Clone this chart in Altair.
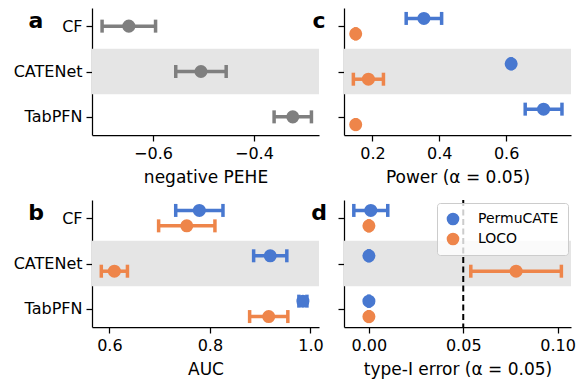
import altair as alt
import pandas as pd

categories = ["CF", "CATENet", "TabPFN"]
methods = ["PermuCATE", "LOCO"]
method_colors = ["#4878d0", "#ee854a"]
single_color = "#7f7f7f"
band_color = "#e5e5e5"
letters = ["a", "b", "c", "d"]

# panel a: negative PEHE (single series)
pehe_mean = [-0.648, -0.505, -0.323]
pehe_err = [0.053, 0.050, 0.037]

# panel b: AUC
auc_perm_mean = [0.779, 0.920, 0.985]
auc_perm_err = [0.047, 0.033, 0.008]
auc_loco_mean = [0.754, 0.610, 0.917]
auc_loco_err = [0.056, 0.026, 0.038]

# panel c: Power
pow_perm_mean = [0.354, 0.615, 0.712]
pow_perm_err = [0.053, 0.0, 0.055]
pow_loco_mean = [0.150, 0.188, 0.150]
pow_loco_err = [0.0, 0.045, 0.0]

# panel d: type-I error
t1_perm_mean = [0.001, 0.0, 0.0]
t1_perm_err = [0.009, 0.0, 0.0]
t1_loco_mean = [0.0, 0.078, 0.0]
t1_loco_err = [0.0, 0.024, 0.0]
alpha_level = 0.05

DODGE = {"PermuCATE": -0.17, "LOCO": 0.17, "single": 0.0}
FONT = "DejaVu Sans"
W, H = 227, 127


def build(series):
    rows = []
    for method, means, errs in series:
        for i, (c, m, e) in enumerate(zip(categories, means, errs)):
            rows.append({"category": c, "method": method, "pos": i + DODGE[method],
                         "mean": m, "lo": m - e, "hi": m + e})
    return pd.DataFrame(rows)


band_idx = categories.index("CATENet")
band_df = pd.DataFrame({"y0": [band_idx - 0.5], "y1": [band_idx + 0.5]})
label_expr = "[" + ",".join("'%s'" % c for c in categories) + "][datum.value]"


def panel(df, xdomain, xticks, fmt, title, letter, show_labels, colored, legend=False, extra=None):
    xs = alt.Scale(domain=xdomain, nice=False, zero=False)
    ys = alt.Scale(domain=[-0.4, 2.4], reverse=True, nice=False, zero=False)
    yaxis = alt.Axis(values=list(range(len(categories))), labelExpr=label_expr if show_labels else "''",
                     labels=show_labels, title=None)
    xaxis = alt.Axis(values=xticks, format=fmt, title=title)
    if colored:
        color = alt.Color("method:N", scale=alt.Scale(domain=methods, range=method_colors),
                          legend=alt.Legend(title=None) if legend else None)
    else:
        color = alt.value(single_color)

    band = alt.Chart(band_df).mark_rect(color=band_color).encode(
        x=alt.value(0), x2=alt.value("width"),
        y=alt.Y("y0:Q", scale=ys, axis=yaxis), y2="y1:Q")
    base = alt.Chart(df)
    rules = base.mark_rule(strokeWidth=3.5).encode(
        x=alt.X("lo:Q", scale=xs, axis=xaxis), x2="hi:Q",
        y=alt.Y("pos:Q", scale=ys), color=color)
    cap_lo = base.mark_tick(orient="vertical", size=13, thickness=3.5, opacity=1).encode(
        x=alt.X("lo:Q", scale=xs), y=alt.Y("pos:Q", scale=ys), color=color)
    cap_hi = base.mark_tick(orient="vertical", size=13, thickness=3.5, opacity=1).encode(
        x=alt.X("hi:Q", scale=xs), y=alt.Y("pos:Q", scale=ys), color=color)
    pts = base.mark_circle(size=170, opacity=1).encode(
        x=alt.X("mean:Q", scale=xs), y=alt.Y("pos:Q", scale=ys), color=color)
    lab_x = -56 if show_labels else -25
    lab = alt.Chart(pd.DataFrame({"t": [letter]})).mark_text(
        font=FONT, fontWeight="bold", fontSize=22, align="center", baseline="alphabetic",
        color="black").encode(text="t:N", x=alt.value(lab_x), y=alt.value(20))
    layers = [band]
    if extra is not None:
        layers.append(extra(xs))
    layers += [rules, cap_lo, cap_hi, pts, lab]
    return alt.layer(*layers).properties(width=W, height=H)


df_a = build([("single", pehe_mean, pehe_err)])
df_b = build([("PermuCATE", auc_perm_mean, auc_perm_err), ("LOCO", auc_loco_mean, auc_loco_err)])
df_c = build([("PermuCATE", pow_perm_mean, pow_perm_err), ("LOCO", pow_loco_mean, pow_loco_err)])
df_d = build([("PermuCATE", t1_perm_mean, t1_perm_err), ("LOCO", t1_loco_mean, t1_loco_err)])


def alpha_line(xs):
    return alt.Chart(pd.DataFrame({"x": [alpha_level]})).mark_rule(
        color="black", strokeDash=[6, 3.5], strokeWidth=2).encode(x=alt.X("x:Q", scale=xs))


pa = panel(df_a, [-0.721, -0.271], [-0.6, -0.4], ".1f", "negative PEHE", letters[0], True, False)
pc = panel(df_c, [0.115, 0.794], [0.2, 0.4, 0.6], ".1f", "Power (α = 0.05)", letters[2], False, True)
pb = panel(df_b, [0.5655, 1.017], [0.6, 0.8, 1.0], ".1f", "AUC", letters[1], True, True)
pd_ = panel(df_d, [-0.0132, 0.1071], [0.0, 0.05, 0.10], ".2f", "type-I error (α = 0.05)", letters[3],
            False, True, legend=True, extra=alpha_line)

chart = alt.concat(pa, pc, pb, pd_, columns=2, spacing={"row": 65, "column": 25}, bounds="flush").resolve_scale(
    color="independent").resolve_legend(color="independent").properties(
    padding={"left": 13, "top": 8, "right": 2, "bottom": 2}
).configure_view(stroke=None).configure_axis(
    domainColor="black", domainWidth=1.25, tickColor="black", tickWidth=1.25, tickSize=6,
    labelFont=FONT, labelFontSize=16, labelColor="black", labelPadding=4,
    titleFont=FONT, titleFontSize=17, titleFontWeight="normal", titleColor="black",
    titlePadding=8, grid=False
).configure_legend(
    orient="top-right", offset=3, padding=9, labelFont=FONT, labelFontSize=14, labelColor="black",
    symbolType="circle", symbolSize=160, symbolOpacity=1, symbolStrokeWidth=0, labelOffset=18,
    fillColor="rgba(255,255,255,0.8)", strokeColor="#cccccc", cornerRadius=3, rowPadding=6
)

chart.save("out.html", embed_options={"renderer": "svg", "actions": False})
